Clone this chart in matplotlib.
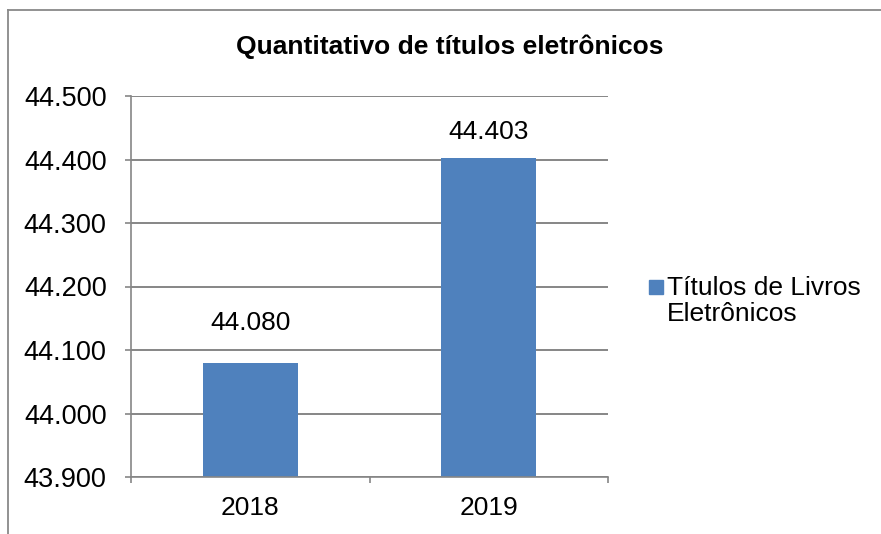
import matplotlib.pyplot as plt
from matplotlib.lines import Line2D
from matplotlib.patches import Rectangle
from matplotlib.ticker import FuncFormatter

plt.rcParams["font.family"] = ["Liberation Sans", "DejaVu Sans"]

# data
years = ["2018", "2019"]
titles = [44080, 44403]
series_label = "Títulos de Livros\nEletrônicos"
chart_title = "Quantitativo de títulos eletrônicos"
y_ticks = [43900, 44000, 44100, 44200, 44300, 44400, 44500]

BLUE = "#4F81BD"
GRID = "#868686"
W, H = 881, 534


def fmt_pt(v, _pos=None):
    # Brazilian thousands separator
    return f"{v:,.0f}".replace(",", ".")


fig = plt.figure(figsize=(W / 100, H / 100), dpi=100)
ax = fig.add_axes([131 / W, 1 - 477 / H, (608 - 131) / W, (477 - 96) / H])

x = list(range(len(years)))
bars = ax.bar(x, titles, width=0.4, color=BLUE, zorder=2)

ax.set_ylim(y_ticks[0], y_ticks[-1])
ax.set_yticks(y_ticks)
ax.yaxis.set_major_formatter(FuncFormatter(fmt_pt))
ax.set_xlim(-0.5, len(years) - 0.5)
ax.set_xticks(x)
ax.set_xticklabels(years)
ax.set_xticks([i - 0.5 for i in range(len(years) + 1)], minor=True)

ax.grid(axis="y", color=GRID, linewidth=1.4, zorder=0)
for side in ["top", "right"]:
    ax.spines[side].set_visible(False)
for side in ["left", "bottom"]:
    ax.spines[side].set_color(GRID)
    ax.spines[side].set_linewidth(1.2)

ax.tick_params(axis="y", length=4.5, color=GRID, width=1.2, pad=13, labelsize=19.5)
ax.tick_params(axis="x", which="major", length=0, pad=14, labelsize=19)
ax.tick_params(axis="x", which="minor", length=4.5, color=GRID, width=1.2)

# data labels (Excel put them at slightly different gaps)
for xi, val, pad in zip(x, titles, [20, 10]):
    ax.annotate(fmt_pt(val), (xi, val), xytext=(0, pad), textcoords="offset points",
                ha="center", va="bottom", fontsize=19)

fig.text(450 / W, 1 - 47 / H, chart_title, ha="center", va="center",
         fontsize=19, fontweight="bold")

# legend drawn by hand so the key sits on the first line
fig.patches.append(Rectangle((649 / W, 1 - 294 / H), 14 / W, 14 / H,
                             transform=fig.transFigure, color=BLUE))
fig.text(667 / W, 1 - 301 / H, series_label, ha="left", va="center",
         fontsize=19, linespacing=1.15)

# chart area border, only the top and left edges are in the crop
left, top = 8 / W, 1 - 10 / H
fig.add_artist(Line2D([left, 1.0], [top, top], transform=fig.transFigure,
                      color="#898989", linewidth=1.3))
fig.add_artist(Line2D([left, left], [0.0, top], transform=fig.transFigure,
                      color="#898989", linewidth=1.3))

fig.savefig("out.png", dpi=100)
